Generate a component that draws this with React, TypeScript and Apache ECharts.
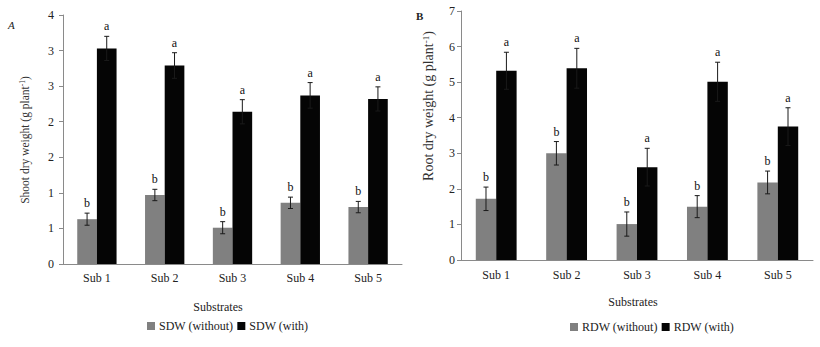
import React, { useEffect, useRef } from "react";
import * as echarts from "echarts";

const categories = ["Sub 1", "Sub 2", "Sub 3", "Sub 4", "Sub 5"];

const sdwWithout = [0.63, 0.97, 0.51, 0.86, 0.8];
const sdwWithoutErr = [0.085, 0.08, 0.085, 0.08, 0.08];
const sdwWith = [3.03, 2.79, 2.14, 2.37, 2.32];
const sdwWithErr = [0.17, 0.18, 0.17, 0.18, 0.17];

const rdwWithout = [1.72, 3.0, 1.01, 1.5, 2.18];
const rdwWithoutErr = [0.33, 0.33, 0.34, 0.31, 0.32];
const rdwWith = [5.32, 5.39, 2.61, 5.01, 3.75];
const rdwWithErr = [0.52, 0.56, 0.53, 0.55, 0.53];

const lettersWithout = ["b", "b", "b", "b", "b"];
const lettersWith = ["a", "a", "a", "a", "a"];

const leftTickLabels = ["0", "1", "1", "2", "2", "3", "3", "4"];
const rightTickLabels = ["0", "1", "2", "3", "4", "5", "6", "7"];

const FONT = '"Liberation Serif", "Times New Roman", serif';
const GRAY = "#808080";
const BLACK = "#050505";
const GAP = 0.42;

function errSeries(name: string, gridIdx: number, vals: number[], errs: number[], letters: string[], sign: number) {
  return {
    name,
    type: "custom",
    xAxisIndex: gridIdx,
    yAxisIndex: gridIdx,
    z: 5,
    silent: true,
    encode: { x: 0, y: 1 },
    data: vals.map((v, i) => [i, v, errs[i]]),
    renderItem: (params: any, api: any) => {
      const i = api.value(0);
      const v = api.value(1);
      const e = api.value(2);
      const band = api.size([1, 0])[0];
      const bw = (band * (1 - GAP)) / 2;
      const base = api.coord([i, v]);
      const cx = base[0] + (sign * bw) / 2;
      const top = api.coord([i, v + e])[1];
      const bot = api.coord([i, v - e])[1];
      const cap = 2.5;
      const ls = { stroke: "#1a1a1a", lineWidth: 1 };
      return {
        type: "group",
        children: [
          { type: "line", shape: { x1: cx, y1: top, x2: cx, y2: bot }, style: ls },
          { type: "line", shape: { x1: cx - cap, y1: top, x2: cx + cap, y2: top }, style: ls },
          { type: "line", shape: { x1: cx - cap, y1: bot, x2: cx + cap, y2: bot }, style: ls },
          {
            type: "text",
            x: cx,
            y: top - 4,
            style: {
              text: letters[params.dataIndex],
              textAlign: "center",
              textVerticalAlign: "bottom",
              font: `12px ${FONT}`,
              fill: "#111",
            },
          },
        ],
      };
    },
  };
}

function barSeries(name: string, gridIdx: number, vals: number[], color: string) {
  return {
    name,
    type: "bar",
    xAxisIndex: gridIdx,
    yAxisIndex: gridIdx,
    data: vals,
    barGap: "0%",
    barCategoryGap: "42%",
    itemStyle: { color },
  };
}

const axisColor = "#8a8a8a";

function xAxis(gridIdx: number, margin: number) {
  return {
    type: "category",
    gridIndex: gridIdx,
    data: categories,
    axisLine: { lineStyle: { color: axisColor } },
    axisTick: { length: 5, lineStyle: { color: axisColor } },
    axisLabel: { color: "#222", fontFamily: FONT, fontSize: 12, margin },
  };
}

function yAxis(gridIdx: number, max: number, interval: number, labels: string[], margin: number) {
  return {
    type: "value",
    gridIndex: gridIdx,
    min: 0,
    max,
    interval,
    splitLine: { show: false },
    axisLine: { show: true, lineStyle: { color: axisColor } },
    axisTick: { show: true, length: 4, lineStyle: { color: axisColor } },
    axisLabel: {
      color: "#222",
      fontFamily: FONT,
      fontSize: 12,
      margin,
      formatter: (v: number) => labels[Math.round(v / interval)] ?? "",
    },
  };
}

function yTitle(x: number, y: number, main: string, size: number) {
  return {
    type: "text",
    x,
    y,
    rotation: Math.PI / 2,
    style: {
      text: `{n|${main} (g plant}{s|-1}{n|)}`,
      textAlign: "center",
      textVerticalAlign: "middle",
      fill: "#333",
      rich: {
        n: { fontFamily: FONT, fontSize: size, fill: "#333" },
        s: { fontFamily: FONT, fontSize: size * 0.65, fill: "#333", verticalAlign: "top" },
      },
    },
  };
}

function legend(left: number, top: number, names: string[]) {
  return {
    left,
    top,
    data: names,
    icon: "rect",
    itemWidth: 8,
    itemHeight: 8,
    itemGap: 4,
    textStyle: { fontFamily: FONT, fontSize: 12, color: "#222", padding: [0, 0, 0, -1] },
    selectedMode: false,
  };
}

export default function App() {
  const ref = useRef<HTMLDivElement>(null);
  useEffect(() => {
    if (!ref.current) return;
    const chart = echarts.init(ref.current, undefined, { renderer: "svg" });
    chart.setOption({
      animation: false,
      backgroundColor: "#fff",
      grid: [
        { left: 63, top: 15, width: 339, height: 249 },
        { left: 461, top: 11, width: 352, height: 249 },
      ],
      xAxis: [xAxis(0, 8), xAxis(1, 9)],
      yAxis: [
        yAxis(0, 3.5, 0.5, leftTickLabels, 9),
        yAxis(1, 7, 1, rightTickLabels, 6),
      ],
      legend: [
        legend(142, 315, ["SDW (without)", "SDW (with)"]),
        legend(565, 316, ["RDW (without)", "RDW (with)"]),
      ],
      graphic: [
        { type: "text", x: 8, y: 19, style: { text: "A", font: `italic 11px ${FONT}`, fill: "#222" } },
        { type: "text", x: 416, y: 10, style: { text: "B", font: `bold 11px ${FONT}`, fill: "#222" } },
        { type: "text", x: 218, y: 307, style: { text: "Substrates", font: `12px ${FONT}`, fill: "#222", textAlign: "center", textVerticalAlign: "middle" } },
        { type: "text", x: 633, y: 302, style: { text: "Substrates", font: `12px ${FONT}`, fill: "#222", textAlign: "center", textVerticalAlign: "middle" } },
        yTitle(25, 140, "Shoot dry weight", 11.5),
        yTitle(428, 106, "Root dry weight", 14),
      ],
      series: [
        barSeries("SDW (without)", 0, sdwWithout, GRAY),
        barSeries("SDW (with)", 0, sdwWith, BLACK),
        barSeries("RDW (without)", 1, rdwWithout, GRAY),
        barSeries("RDW (with)", 1, rdwWith, BLACK),
        errSeries("e1", 0, sdwWithout, sdwWithoutErr, lettersWithout, -1),
        errSeries("e2", 0, sdwWith, sdwWithErr, lettersWith, 1),
        errSeries("e3", 1, rdwWithout, rdwWithoutErr, lettersWithout, -1),
        errSeries("e4", 1, rdwWith, rdwWithErr, lettersWith, 1),
      ],
    });
    return () => chart.dispose();
  }, []);
  return (
    <div
      ref={ref}
      style={{ position: "fixed", left: 0, top: 0, width: 820, height: 347, background: "#fff" }}
    />
  );
}
